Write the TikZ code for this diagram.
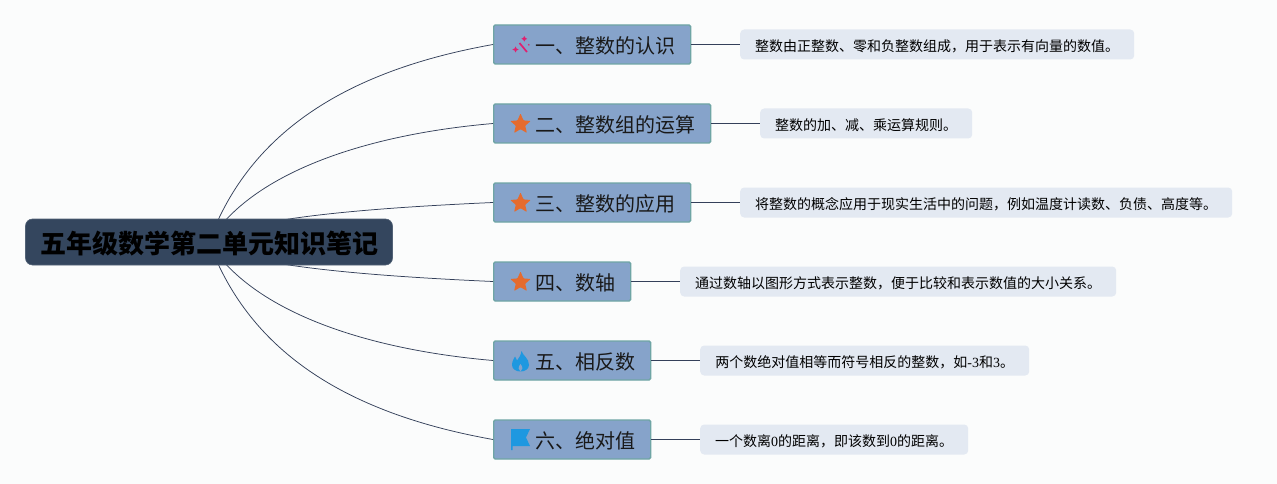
\documentclass[tikz,border=0pt]{standalone}
\usepackage{fontspec}
\setmainfont{Noto Sans CJK SC}
\newfontfamily\latinserif{Liberation Serif}
\definecolor{bgc}{HTML}{FBFCFC}
\definecolor{rootc}{HTML}{34465E}
\definecolor{branchc}{HTML}{86A3CA}
\definecolor{branchb}{HTML}{6FA5A5}
\definecolor{leafc}{HTML}{E3E9F2}
\definecolor{linec}{HTML}{34405A}
\definecolor{starc}{HTML}{E56B2E}
\definecolor{wandc}{HTML}{E0206F}
\definecolor{iconb}{HTML}{1E98E0}
\tikzset{
  x=1pt,y=-1pt,
  rootbox/.style={fill=rootc,draw=rootc!85!white,line width=.6pt,rounded corners=7pt,minimum width=367pt,minimum height=46pt,inner sep=0pt,text height=24pt,text depth=.2pt,font=\fontsize{26}{28}\selectfont\bfseries,text=black},
  branchbox/.style={fill=branchc,draw=branchb,line width=1.3pt,rounded corners=1.5pt,minimum height=39pt,inner sep=0pt,anchor=west,text height=18pt,text depth=.8pt,font=\fontsize{20}{24}\selectfont,text=black!90},
  leafbox/.style={fill=leafc,rounded corners=4pt,minimum height=30pt,inner sep=0pt,anchor=west,text height=14pt,text depth=.4pt,font=\fontsize{14}{16}\selectfont,text=black},
  conn/.style={draw=linec,line width=.75pt},
}
\newcommand{\starshape}[1]{\fill[starc,rounded corners=.8pt] #1 ++(0,-10.5)
  -- ++(3,6.9) -- ++(7.2,.6) -- ++(-5.5,4.8) -- ++(1.7,7.2) -- ++(-6.4,-3.8) -- ++(-6.4,3.8) -- ++(1.7,-7.2) -- ++(-5.5,-4.8) -- ++(7.2,-.6) -- cycle;}
\begin{document}
\begin{tikzpicture}
\useasboundingbox[fill=bgc] (0,0) rectangle (1277,484);
\coordinate (c) at (209,242);
\node[branchbox,minimum width=197pt] (b1) at (493,44.5) {\hspace*{26pt}一、整数的认识};
\node[branchbox,minimum width=217pt] (b2) at (493,123.5) {\hspace*{26pt}二、整数组的运算};
\node[branchbox,minimum width=197pt] (b3) at (493,202.5) {\hspace*{26pt}三、整数的应用};
\node[branchbox,minimum width=137pt] (b4) at (493,281.5) {\hspace*{26pt}四、数轴};
\node[branchbox,minimum width=157pt] (b5) at (493,360.5) {\hspace*{26pt}五、相反数};
\node[branchbox,minimum width=157pt] (b6) at (493,439.5) {\hspace*{26pt}六、绝对值};
\node[leafbox,minimum width=394pt] (l1) at (740,44.5) {整数由正整数、零和负整数组成，用于表示有向量的数值。};
\node[leafbox,minimum width=212pt] (l2) at (760,123.5) {整数的加、减、乘运算规则。};
\node[leafbox,minimum width=492pt] (l3) at (740,202.5) {将整数的概念应用于现实生活中的问题，例如温度计读数、负债、高度等。};
\node[leafbox,minimum width=436pt] (l4) at (680,281.5) {通过数轴以图形方式表示整数，便于比较和表示数值的大小关系。};
\node[leafbox,minimum width=329pt] (l5) at (700,360.5) {两个数绝对值相等而符号相反的整数，如{\latinserif -3}和{\latinserif 3}。};
\node[leafbox,minimum width=268pt] (l6) at (700,439.5) {一个数离{\latinserif 0}的距离，即该数到{\latinserif 0}的距离。};
\draw[conn] (c) .. controls (250,130) and (350,70) .. (b1.west);
\draw[conn] (c) .. controls (250,175) and (360,135) .. (b2.west);
\draw[conn] (c) .. controls (240,218) and (370,208) .. (b3.west);
\draw[conn] (c) .. controls (240,266) and (370,276) .. (b4.west);
\draw[conn] (c) .. controls (250,309) and (360,349) .. (b5.west);
\draw[conn] (c) .. controls (250,354) and (350,414) .. (b6.west);
\foreach \i in {1,...,6}{\draw[conn] (b\i.east) -- (l\i.west);}
\node[rootbox] (root) at (209,242) {五年级数学第二单元知识笔记};
% icons
\draw[wandc,line width=1.7pt] (519.5,43) -- (527,52);
\fill[wandc] (515.5,46.5) -- (516.5,48.5) -- (518.7,49.5) -- (516.5,50.5) -- (515.5,52.5) -- (514.5,50.5) -- (512.3,49.5) -- (514.5,48.5) -- cycle;
\fill[wandc] (524.3,36) -- (525.3,37.8) -- (527.2,38.8) -- (525.3,39.8) -- (524.3,41.6) -- (523.3,39.8) -- (521.4,38.8) -- (523.3,37.8) -- cycle;
\fill[wandc] (528.8,44.8) circle (.9);
\starshape{(520.5,124)}
\starshape{(520.5,203)}
\starshape{(520.5,282)}
\fill[iconb] (521.5,351) .. controls (523,356) and (529,358) .. (529,365) .. controls (529,369) and (525,371.5) .. (520.5,371.5) .. controls (516,371.5) and (512,369) .. (512,365) .. controls (512,361) and (514,359) .. (515,356.5) .. controls (516,358) and (516.5,359.5) .. (517,360.5) .. controls (519,358) and (521,355) .. (521.5,351) -- cycle;
\fill[branchc] (520.5,371.6) .. controls (518,370) and (518,367) .. (520.5,364) .. controls (523,367) and (523,370) .. (520.5,371.6) -- cycle;
\fill[iconb] (511,429) -- (530,429) -- (526,437.5) -- (530,446) -- (512.5,446) -- (512.5,450) -- (511,450) -- cycle;
\end{tikzpicture}
\end{document}
